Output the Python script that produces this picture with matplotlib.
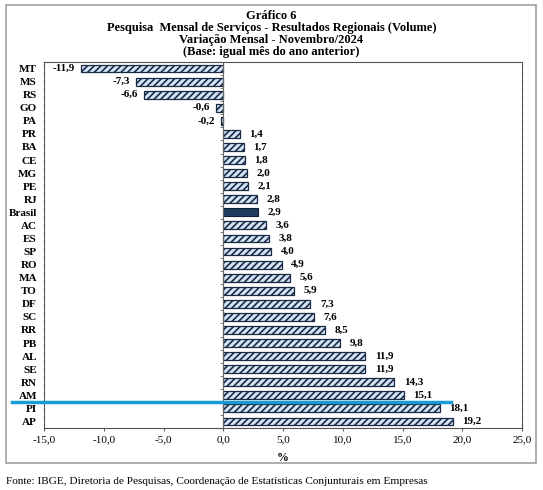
import matplotlib.pyplot as plt
from matplotlib.patches import Rectangle

regioes = ["MT", "MS", "RS", "GO", "PA", "PR", "BA", "CE", "MG", "PE", "RJ", "Brasil", "AC",
           "ES", "SP", "RO", "MA", "TO", "DF", "SC", "RR", "PB", "AL", "SE", "RN", "AM", "PI", "AP"]
valores = [-11.9, -7.3, -6.6, -0.6, -0.2, 1.4, 1.7, 1.8, 2.0, 2.1, 2.8, 2.9, 3.6,
           3.8, 4.0, 4.9, 5.6, 5.9, 7.3, 7.6, 8.5, 9.8, 11.9, 11.9, 14.3, 15.1, 18.1, 19.2]
xticks = [-15, -10, -5, 0, 5, 10, 15, 20, 25]

titulo = ("Gráfico 6\nPesquisa  Mensal de Serviços - Resultados Regionais (Volume)\n"
          "Variação Mensal - Novembro/2024\n(Base: igual mês do ano anterior)")
fonte = "Fonte: IBGE, Diretoria de Pesquisas, Coordenação de Estatísticas Conjunturais em Empresas"

plt.rcParams['font.family'] = ['Liberation Serif', 'DejaVu Serif']
plt.rcParams['hatch.color'] = '#557399'
plt.rcParams['hatch.linewidth'] = 1.2

fig = plt.figure(figsize=(5.43, 4.90), dpi=100)
fig.patches.append(Rectangle((6 / 543, 1 - 463 / 490), 530 / 543, 458 / 490,
                             transform=fig.transFigure, fill=False, edgecolor='#a0a0a0', lw=1.2))
ax = fig.add_axes([44 / 543, 1 - 428 / 490, 478 / 543, 366 / 490])

n = len(regioes)
pos = list(range(n))
for i, (r, v) in enumerate(zip(regioes, valores)):
    if r == "Brasil":
        ax.barh(i, v, height=0.6, color='#1f3b5e', edgecolor='#0f1f33', lw=0.8)
    else:
        ax.barh(i, v, height=0.6, color='#d3e4f7', edgecolor='#1a2a44', lw=0.9, hatch='/////')
    txt = f"{v:.1f}".replace('.', ',')
    if v < 0:
        ax.text(v - 0.5, i, txt, ha='right', va='center', fontsize=8, fontweight='bold')
    else:
        ax.text(v + 0.8, i, txt, ha='left', va='center', fontsize=8, fontweight='bold')

ax.set_xlim(-15, 25)
ax.set_ylim(n - 0.5, -0.5)
ax.set_yticks(pos)
ax.set_yticklabels(regioes, fontsize=8, fontweight='bold')
ax.tick_params(axis='y', length=0, pad=5)
ax.set_xticks(xticks)
ax.set_xticklabels([f"{t:.1f}".replace('.', ',') for t in xticks], fontsize=8)
ax.tick_params(axis='x', length=2, pad=3, color='#666666')
ax.set_xlabel('%', fontsize=8.5, fontweight='bold', labelpad=6)

for s in ax.spines.values():
    s.set_linestyle((0, (1.2, 1.2)))
    s.set_linewidth(0.8)
    s.set_color('#444444')

# eixo vertical no zero com marcas entre categorias
ax.axvline(0, color='#666666', lw=0.8, zorder=1)
ax.hlines([i + 0.5 for i in range(n - 1)], -0.25, 0, color='#666666', lw=0.6)

# linha azul de destaque
ax.plot([-17.7, 19.1], [25.5, 25.5], color='#1a9bd7', lw=2.5, clip_on=False, zorder=5)

fig.text(0.5, 1 - 10 / 490, titulo, ha='center', va='top', fontsize=9, fontweight='bold',
         linespacing=1.0)
fig.text(6 / 543, 1 - 481 / 490, fonte, ha='left', va='center', fontsize=8.1)

fig.savefig('out.png', dpi=100)
